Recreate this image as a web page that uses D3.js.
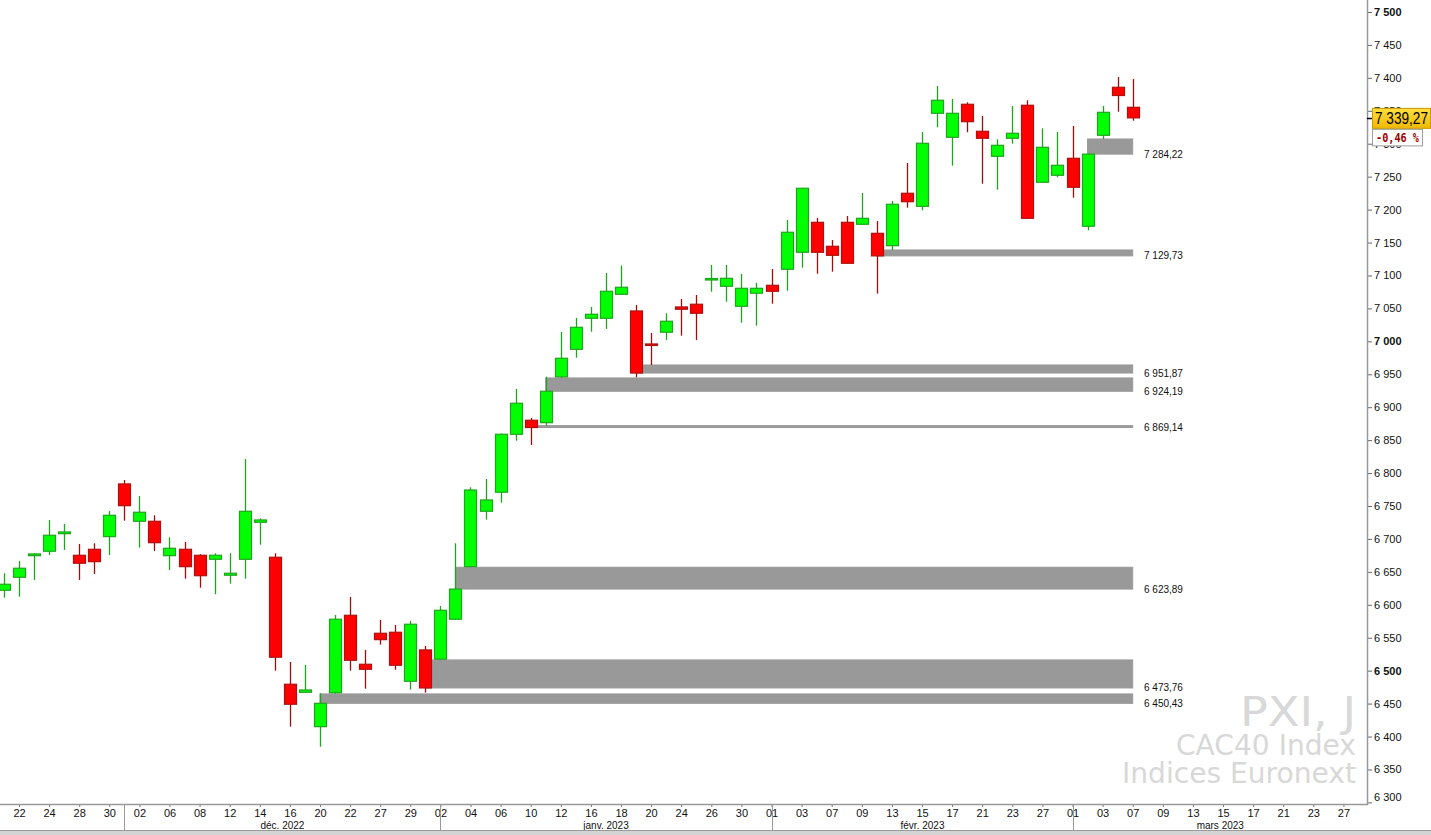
<!DOCTYPE html>
<html><head><meta charset="utf-8">
<script src="https://cdn.jsdelivr.net/npm/d3@7"></script>
<style>body{margin:0;background:#fff;overflow:hidden}</style>
</head><body><svg id="c" width="1431" height="835"></svg>
<script>
// ---------- DATA ----------
const dates = [
"2022-11-21","2022-11-22","2022-11-23","2022-11-24","2022-11-25","2022-11-28","2022-11-29","2022-11-30",
"2022-12-01","2022-12-02","2022-12-05","2022-12-06","2022-12-07","2022-12-08","2022-12-09","2022-12-12",
"2022-12-13","2022-12-14","2022-12-15","2022-12-16","2022-12-19","2022-12-20","2022-12-21","2022-12-22",
"2022-12-23","2022-12-27","2022-12-28","2022-12-29","2022-12-30",
"2023-01-02","2023-01-03","2023-01-04","2023-01-05","2023-01-06","2023-01-09","2023-01-10","2023-01-11",
"2023-01-12","2023-01-13","2023-01-16","2023-01-17","2023-01-18","2023-01-19","2023-01-20","2023-01-23",
"2023-01-24","2023-01-25","2023-01-26","2023-01-27","2023-01-30","2023-01-31",
"2023-02-01","2023-02-02","2023-02-03","2023-02-06","2023-02-07","2023-02-08","2023-02-09","2023-02-10",
"2023-02-13","2023-02-14","2023-02-15","2023-02-16","2023-02-17","2023-02-20","2023-02-21","2023-02-22",
"2023-02-23","2023-02-24","2023-02-27","2023-02-28",
"2023-03-01","2023-03-02","2023-03-03","2023-03-06","2023-03-07"];
const futureDates = ["2023-03-08","2023-03-09","2023-03-10","2023-03-13","2023-03-14","2023-03-15","2023-03-16",
"2023-03-17","2023-03-20","2023-03-21","2023-03-22","2023-03-23","2023-03-24","2023-03-27","2023-03-28","2023-03-29"];

const opens = [6622.1,6641.8,6674.6,6681.3,6708.0,6675.2,6684.3,6703.5,6783.5,6726.8,6726.8,6674.6,6684.3,6675.2,6669.1,6644.9,
6669.1,6725.3,6672.2,6479.4,6467.2,6415.0,6466.5,6584.1,6509.7,6556.8,6558.3,6483.9,6531.5,
6517.5,6578.1,6657.9,6742.0,6770.9,6858.9,6880.2,6876.5,6946.0,6987.9,7035.0,7035.0,7071.4,7046.1,6996.0,7013.8,
7052.2,7056.3,7093.9,7083.6,7053.2,7073.0,
7085.1,7109.4,7135.2,7180.7,7144.3,7180.7,7177.7,7164.0,7145.2,7224.8,7205.0,7346.2,7309.8,7359.9,7318.9,7280.9,
7308.3,7358.4,7241.5,7252.1,
7277.9,7174.7,7312.8,7385.7,7355.3];
const highs = [6647.9,6666.6,6678.3,6728.8,6722.7,6692.4,6693.4,6742.5,6789.5,6765.2,6735.9,6702.5,6695.4,6676.7,6678.3,6678.3,
6821.4,6731.4,6678.3,6513.2,6508.7,6465.7,6584.6,6611.9,6531.5,6577.0,6569.4,6575.5,6537.5,
6598.2,6693.4,6778.4,6791.0,6860.0,6927.7,6883.7,6946.3,7014.2,7035.5,7052.2,7103.8,7114.9,7055.2,7012.7,7042.6,
7064.3,7070.4,7115.9,7115.9,7102.3,7089.0,
7109.8,7184.2,7233.0,7187.3,7153.9,7190.3,7225.2,7182.7,7213.1,7270.8,7317.8,7387.7,7367.9,7362.9,7342.1,7306.7,
7357.3,7366.0,7323.4,7317.8,
7326.9,7284.5,7357.3,7401.3,7398.3];
const lows = [6610.9,6612.4,6637.7,6675.7,6683.3,6637.7,6646.8,6675.7,6727.7,6686.8,6681.7,6652.9,6639.7,6626.0,6616.0,6632.1,
6639.7,6691.3,6500.0,6415.0,6467.0,6384.6,6464.7,6500.0,6472.7,6539.5,6501.5,6471.2,6466.6,
6516.3,6577.0,6657.0,6729.3,6755.1,6849.2,6842.7,6872.0,6944.4,6975.2,7014.7,7018.8,7071.0,6945.4,6964.1,7002.1,
7008.6,7002.1,7075.4,7060.2,7028.3,7023.8,
7057.2,7076.9,7111.8,7102.7,7105.8,7118.0,7177.0,7072.4,7138.7,7202.9,7199.0,7325.0,7266.7,7317.4,7239.3,7230.2,
7300.1,7186.0,7241.0,7249.1,
7218.1,7168.6,7307.2,7348.6,7335.0];
const closes = [6631.2,6655.5,6677.2,6705.6,6710.6,6663.1,6665.5,6735.9,6750.5,6740.5,6694.3,6685.8,6657.9,6644.2,6675.2,6647.9,
6742.0,6728.8,6520.4,6449.0,6470.7,6450.43,6578.1,6515.8,6502.1,6547.1,6508.2,6570.5,6473.76,
6591.7,6623.89,6774.3,6759.2,6858.9,6906.0,6869.14,6924.19,6974.3,7021.3,7041.1,7076.0,7082.1,6951.87,6994.5,7030.5,
7048.7,7042.6,7095.4,7095.7,7080.5,7080.5,
7076.0,7165.6,7232.4,7135.2,7130.6,7118.5,7186.8,7129.73,7208.1,7212.0,7300.7,7366.0,7346.2,7333.5,7308.3,7297.6,
7315.9,7186.8,7294.6,7267.3,
7233.9,7284.22,7347.7,7373.2,7339.27];

const zoneBottoms = [7284.22,7129.73,6951.87,6924.19,6869.14,6623.89,6473.76,6450.43];
const zoneTops    = [7307.2,7138.7,6964.1,6944.4,6872.0,6657.0,6516.3,6464.7];
const zoneStarts  = ["2023-03-02","2023-02-10","2023-01-19","2023-01-11","2023-01-10","2023-01-03","2022-12-30","2022-12-20"];
const zoneLabels  = ["7 284,22","7 129,73","6 951,87","6 924,19","6 869,14","6 623,89","6 473,76","6 450,43"];

const yTicks = [6300,6350,6400,6450,6500,6550,6600,6650,6700,6750,6800,6850,6900,6950,7000,7050,7100,7150,7200,7250,7300,7350,7400,7450,7500];
const yTickLabels = ["6 300","6 350","6 400","6 450","6 500","6 550","6 600","6 650","6 700","6 750","6 800","6 850","6 900","6 950","7 000","7 050","7 100","7 150","7 200","7 250","7 300","7 350","7 400","7 450","7 500"];
const yBold = [6500,7000,7500];

const xTickDates = ["2022-11-22","2022-11-24","2022-11-28","2022-11-30","2022-12-02","2022-12-06","2022-12-08","2022-12-12",
"2022-12-14","2022-12-16","2022-12-20","2022-12-22","2022-12-27","2022-12-29","2023-01-02","2023-01-04","2023-01-06",
"2023-01-10","2023-01-12","2023-01-16","2023-01-18","2023-01-20","2023-01-24","2023-01-26","2023-01-30","2023-02-01",
"2023-02-03","2023-02-07","2023-02-09","2023-02-13","2023-02-15","2023-02-17","2023-02-21","2023-02-23","2023-02-27",
"2023-03-01","2023-03-03","2023-03-07","2023-03-09","2023-03-13","2023-03-15","2023-03-17","2023-03-21","2023-03-23","2023-03-27"];
const monthStarts = ["2022-12-01","2023-01-02","2023-02-01","2023-03-01"];
const monthLabels = ["déc. 2022","janv. 2023","févr. 2023","mars 2023"];

const lastPriceLabel = "7 339,27";
const changeLabel = "-0,46 %";
const watermark = ["PXI, J","CAC40 Index","Indices Euronext"];

// ---------- LAYOUT ----------
const svg = d3.select("#c");
const axisX = 1367, axisY = 804;
const allDates = dates.concat(futureDates);
const step = 15.05;
const x = d3.scalePoint().domain(allDates).range([3.95, 3.95 + (allDates.length - 1) * step]);
const y = d3.scaleLinear().domain([6300, 7500]).range([802.4, 12]);

svg.append("rect").attr("width",1431).attr("height",835).attr("fill","#fff");

// watermark
const wm = svg.append("g").attr("fill","#d8d8d8").attr("text-anchor","end")
  .style("font-family","'DejaVu Sans', sans-serif");
wm.append("text").attr("x",1356).attr("y",726).attr("font-size",40).attr("textLength",116)
  .attr("lengthAdjust","spacingAndGlyphs").text(watermark[0]);
wm.append("text").attr("x",1356).attr("y",755).attr("font-size",29).attr("textLength",180)
  .attr("lengthAdjust","spacingAndGlyphs").text(watermark[1]);
wm.append("text").attr("x",1356).attr("y",783).attr("font-size",29).attr("textLength",234)
  .attr("lengthAdjust","spacingAndGlyphs").text(watermark[2]);

// zones
const lastX = x(dates[dates.length - 1]);
const zg = svg.append("g");
zoneBottoms.forEach((b, i) => {
  const x0 = x(zoneStarts[i]);
  const yt = y(zoneTops[i]), yb = y(b);
  zg.append("rect").attr("x", x0).attr("y", yt).attr("width", lastX - x0).attr("height", Math.max(1, yb - yt))
    .attr("fill","#999999").attr("stroke","#999999").attr("stroke-width",1);
  zg.append("text").attr("x",1144).attr("y",yb).attr("dy","0.35em")
    .attr("font-size",10).style("font-family","'Liberation Sans', Arial, sans-serif").attr("fill","#111")
    .text(zoneLabels[i]);
});

// candles
const cg = svg.append("g");
const bw = 12;
dates.forEach((d, i) => {
  const o = opens[i], h = highs[i], l = lows[i], c = closes[i];
  const up = c >= o;
  const cx = Math.round(x(d)) + 0.5;
  const wickCol = up ? "#1ea51e" : "#a00d0d";
  cg.append("line").attr("x1",cx).attr("x2",cx).attr("y1",y(h)).attr("y2",y(l))
    .attr("stroke",wickCol).attr("stroke-width",1.3);
  const top = y(Math.max(o,c)), bot = y(Math.min(o,c));
  cg.append("rect").attr("x",cx - bw/2).attr("y",top).attr("width",bw).attr("height",Math.max(1.5, bot - top))
    .attr("fill", up ? "#00ff00" : "#ff0000")
    .attr("stroke", up ? "#1ea51e" : "#b01010").attr("stroke-width",1.2);
});

// y axis
const yAxis = d3.axisRight(y).tickValues(yTicks).tickSize(5).tickSizeOuter(0)
  .tickFormat((v, i) => yTickLabels[i]);
const ya = svg.append("g").attr("transform",`translate(${axisX},0)`).call(yAxis);
ya.select(".domain").remove();
ya.selectAll(".tick line").attr("stroke","#666");
ya.selectAll(".tick text").attr("x",7).attr("fill","#111")
  .style("font-family","'Liberation Sans', Arial, sans-serif").attr("font-size",11)
  .attr("font-weight", v => yBold.includes(v) ? "bold" : "normal")
  .attr("y", v => Math.min(0, 797 - y(v)));
svg.append("line").attr("x1",axisX+0.5).attr("x2",axisX+0.5).attr("y1",0).attr("y2",axisY+1)
  .attr("stroke","#999").attr("stroke-width",1.5);

// x axis
const xAxis = d3.axisBottom(x).tickValues(xTickDates).tickSize(3).tickSizeOuter(0)
  .tickFormat(d => d.slice(8));
const xa = svg.append("g").attr("transform",`translate(0,${axisY})`).call(xAxis);
xa.select(".domain").remove();
xa.selectAll(".tick line").attr("stroke","#777");
xa.selectAll(".tick text").attr("y",5).attr("fill","#111")
  .style("font-family","'Liberation Sans', Arial, sans-serif").attr("font-size",11);
svg.append("line").attr("x1",0).attr("x2",axisX+1).attr("y1",axisY+0.5).attr("y2",axisY+0.5)
  .attr("stroke","#999").attr("stroke-width",1.3);

// month separators & labels
monthStarts.forEach((m, i) => {
  const sx = Math.round(x(m)) + 0.5;
  svg.append("line").attr("x1",sx).attr("x2",sx).attr("y1",axisY).attr("y2",830).attr("stroke","#999");
  const ex = i < monthStarts.length - 1 ? x(monthStarts[i+1]) : axisX;
  svg.append("text").attr("x",(sx + ex)/2).attr("y",829).attr("text-anchor","middle")
    .attr("font-size",10).style("font-family","'Liberation Sans', Arial, sans-serif").attr("fill","#111")
    .text(monthLabels[i]);
});

// bottom bar
svg.append("rect").attr("x",0).attr("y",830).attr("width",1431).attr("height",5).attr("fill","#d4d4d4");
svg.append("line").attr("x1",0).attr("x2",1431).attr("y1",830.5).attr("y2",830.5).attr("stroke","#9a9a9a");

// last price marker
const lp = closes[closes.length - 1];
const ly = y(lp);
svg.append("line").attr("x1",axisX).attr("x2",axisX+6).attr("y1",Math.round(ly)+0.5).attr("y2",Math.round(ly)+0.5)
  .attr("stroke","#000").attr("stroke-width",1.5);
const defs = svg.append("defs");
const grad = defs.append("linearGradient").attr("id","gold").attr("x1",0).attr("x2",0).attr("y1",0).attr("y2",1);
grad.append("stop").attr("offset","0%").attr("stop-color","#ffe040");
grad.append("stop").attr("offset","100%").attr("stop-color","#f0b800");
svg.append("rect").attr("x",1372.5).attr("y",ly - 9.5).attr("width",58).attr("height",20)
  .attr("fill","url(#gold)").attr("stroke","#c89b00");
svg.append("text").attr("x",1375).attr("y",ly + 6).attr("font-size",16).attr("textLength",53)
  .attr("lengthAdjust","spacingAndGlyphs")
  .style("font-family","'Liberation Sans', Arial, sans-serif").attr("fill","#000").text(lastPriceLabel);
svg.append("rect").attr("x",1372.5).attr("y",ly + 11.5).attr("width",50).attr("height",16.5)
  .attr("fill","#fff").attr("stroke","#a0a0a0");
svg.append("text").attr("x",1376).attr("y",ly + 24).attr("font-size",11.5).attr("font-weight","bold")
  .attr("textLength",43).attr("lengthAdjust","spacingAndGlyphs")
  .style("font-family","'DejaVu Sans Mono', monospace").attr("fill","#a00000").text(changeLabel);
</script></body></html>
